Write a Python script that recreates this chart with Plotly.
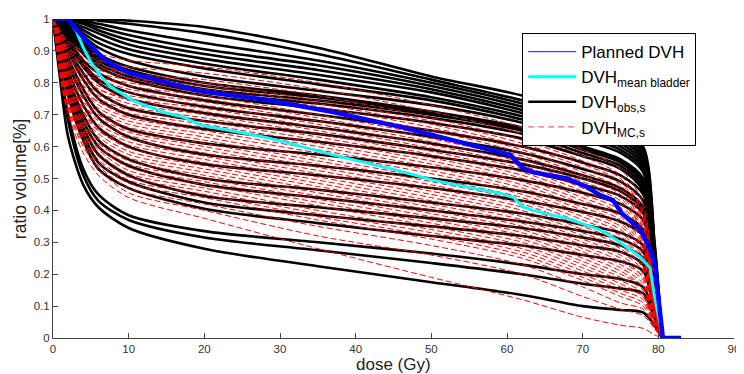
import plotly.graph_objects as go

# dose grid (Gy) at which the observed / Monte-Carlo DVHs were read
dose_nodes = [0, 1, 2, 4, 6, 10, 20, 35, 50, 62, 70, 75, 78, 79.5, 80.5]

# DVH_obs,s (black) – volume ratio at dose_nodes
obs_dvh = [
    [1, 1, 1, 1, 1, 0.995, 0.975, 0.91, 0.82, 0.76, 0.70, 0.66, 0.60, 0.30, 0],
    [1, 1, 1, 1, 0.995, 0.985, 0.955, 0.89, 0.81, 0.745, 0.69, 0.65, 0.59, 0.29, 0],
    [1, 1, 1, 0.995, 0.985, 0.965, 0.925, 0.87, 0.80, 0.735, 0.68, 0.64, 0.58, 0.28, 0],
    [1, 1, 1, 0.99, 0.975, 0.95, 0.905, 0.855, 0.79, 0.725, 0.67, 0.63, 0.57, 0.27, 0],
    [1, 1, 0.995, 0.985, 0.965, 0.935, 0.89, 0.84, 0.78, 0.715, 0.66, 0.62, 0.56, 0.26, 0],
    [1, 1, 0.99, 0.975, 0.955, 0.92, 0.875, 0.825, 0.77, 0.705, 0.65, 0.61, 0.55, 0.25, 0],
    [1, 1, 0.99, 0.965, 0.94, 0.905, 0.86, 0.81, 0.755, 0.695, 0.64, 0.60, 0.54, 0.24, 0],
    [1, 1, 0.985, 0.955, 0.925, 0.89, 0.845, 0.795, 0.745, 0.685, 0.63, 0.59, 0.53, 0.23, 0],
    [1, 1, 0.98, 0.945, 0.91, 0.87, 0.82, 0.775, 0.73, 0.675, 0.62, 0.58, 0.52, 0.22, 0],
    [1, 1, 0.98, 0.93, 0.89, 0.85, 0.80, 0.76, 0.71, 0.66, 0.60, 0.56, 0.50, 0.21, 0],
    [1, 0.995, 0.975, 0.92, 0.88, 0.84, 0.79, 0.755, 0.705, 0.655, 0.595, 0.555, 0.49, 0.21, 0],
    [1, 0.99, 0.97, 0.91, 0.87, 0.83, 0.78, 0.745, 0.70, 0.65, 0.59, 0.55, 0.48, 0.20, 0],
    [1, 0.99, 0.96, 0.90, 0.86, 0.82, 0.77, 0.735, 0.69, 0.64, 0.58, 0.54, 0.47, 0.20, 0],
    [1, 0.99, 0.95, 0.89, 0.85, 0.81, 0.76, 0.72, 0.675, 0.625, 0.57, 0.53, 0.46, 0.19, 0],
    [1, 0.98, 0.94, 0.87, 0.83, 0.79, 0.745, 0.70, 0.65, 0.60, 0.55, 0.51, 0.45, 0.18, 0],
    [1, 0.98, 0.93, 0.86, 0.81, 0.77, 0.725, 0.68, 0.63, 0.58, 0.53, 0.49, 0.43, 0.17, 0],
    [1, 0.97, 0.92, 0.85, 0.80, 0.75, 0.705, 0.66, 0.61, 0.56, 0.51, 0.47, 0.41, 0.16, 0],
    [1, 0.97, 0.91, 0.83, 0.77, 0.72, 0.68, 0.64, 0.59, 0.545, 0.50, 0.46, 0.40, 0.15, 0],
    [1, 0.96, 0.90, 0.81, 0.75, 0.70, 0.655, 0.615, 0.57, 0.525, 0.48, 0.445, 0.39, 0.15, 0],
    [1, 0.95, 0.88, 0.78, 0.71, 0.655, 0.61, 0.575, 0.535, 0.495, 0.455, 0.42, 0.37, 0.14, 0],
    [1, 0.94, 0.86, 0.76, 0.69, 0.63, 0.575, 0.54, 0.50, 0.46, 0.42, 0.39, 0.34, 0.13, 0],
    [1, 0.93, 0.84, 0.73, 0.66, 0.60, 0.545, 0.51, 0.47, 0.43, 0.395, 0.365, 0.32, 0.12, 0],
    [1, 0.92, 0.82, 0.70, 0.62, 0.56, 0.50, 0.465, 0.425, 0.39, 0.355, 0.33, 0.29, 0.11, 0],
    [1, 0.91, 0.81, 0.68, 0.60, 0.54, 0.48, 0.44, 0.40, 0.365, 0.335, 0.31, 0.27, 0.10, 0],
    [1, 0.90, 0.79, 0.66, 0.575, 0.51, 0.445, 0.41, 0.375, 0.345, 0.315, 0.29, 0.25, 0.09, 0],
    [1, 0.89, 0.77, 0.64, 0.55, 0.49, 0.425, 0.385, 0.35, 0.32, 0.29, 0.27, 0.23, 0.09, 0],
    [1, 0.88, 0.76, 0.62, 0.53, 0.47, 0.405, 0.36, 0.32, 0.29, 0.26, 0.24, 0.21, 0.08, 0],
    [1, 0.84, 0.70, 0.53, 0.45, 0.385, 0.335, 0.30, 0.265, 0.23, 0.20, 0.185, 0.16, 0.07, 0],
    [1, 0.83, 0.68, 0.51, 0.43, 0.37, 0.315, 0.275, 0.235, 0.20, 0.17, 0.155, 0.14, 0.06, 0],
    [1, 0.80, 0.63, 0.48, 0.41, 0.345, 0.28, 0.225, 0.175, 0.135, 0.10, 0.088, 0.08, 0.04, 0],
]

# DVH_MC,s (red dashed) – volume ratio at dose_nodes
mc_dvh = [
    [1, 0.96, 0.93, 0.90, 0.89, 0.87, 0.85, 0.80, 0.73, 0.66, 0.59, 0.53, 0.42, 0.15, 0],
    [1, 0.96, 0.92, 0.89, 0.87, 0.85, 0.83, 0.78, 0.71, 0.64, 0.57, 0.51, 0.40, 0.14, 0],
    [1, 0.95, 0.91, 0.88, 0.86, 0.83, 0.81, 0.76, 0.69, 0.62, 0.555, 0.50, 0.39, 0.14, 0],
    [1, 0.95, 0.91, 0.87, 0.85, 0.825, 0.80, 0.745, 0.68, 0.61, 0.545, 0.49, 0.38, 0.13, 0],
    [1, 0.95, 0.90, 0.86, 0.84, 0.815, 0.79, 0.735, 0.67, 0.60, 0.535, 0.48, 0.37, 0.13, 0],
    [1, 0.94, 0.90, 0.86, 0.83, 0.81, 0.78, 0.725, 0.66, 0.59, 0.52, 0.47, 0.36, 0.12, 0],
    [1, 0.94, 0.89, 0.85, 0.82, 0.80, 0.77, 0.715, 0.65, 0.58, 0.51, 0.46, 0.35, 0.12, 0],
    [1, 0.94, 0.89, 0.84, 0.82, 0.79, 0.76, 0.70, 0.635, 0.57, 0.50, 0.45, 0.34, 0.12, 0],
    [1, 0.94, 0.88, 0.83, 0.81, 0.78, 0.75, 0.69, 0.625, 0.56, 0.49, 0.44, 0.33, 0.11, 0],
    [1, 0.93, 0.88, 0.83, 0.80, 0.77, 0.74, 0.68, 0.615, 0.55, 0.48, 0.43, 0.33, 0.11, 0],
    [1, 0.93, 0.87, 0.82, 0.79, 0.76, 0.73, 0.67, 0.605, 0.54, 0.47, 0.42, 0.32, 0.11, 0],
    [1, 0.93, 0.87, 0.81, 0.78, 0.75, 0.72, 0.66, 0.595, 0.53, 0.46, 0.41, 0.31, 0.10, 0],
    [1, 0.92, 0.86, 0.81, 0.78, 0.745, 0.71, 0.65, 0.585, 0.52, 0.45, 0.40, 0.30, 0.10, 0],
    [1, 0.92, 0.86, 0.80, 0.77, 0.735, 0.70, 0.64, 0.575, 0.51, 0.44, 0.39, 0.30, 0.10, 0],
    [1, 0.92, 0.85, 0.79, 0.76, 0.725, 0.69, 0.63, 0.565, 0.50, 0.43, 0.38, 0.29, 0.10, 0],
    [1, 0.92, 0.85, 0.79, 0.75, 0.715, 0.68, 0.62, 0.555, 0.49, 0.42, 0.37, 0.28, 0.09, 0],
    [1, 0.91, 0.84, 0.78, 0.74, 0.705, 0.67, 0.61, 0.545, 0.48, 0.41, 0.36, 0.27, 0.09, 0],
    [1, 0.91, 0.84, 0.77, 0.74, 0.695, 0.66, 0.60, 0.535, 0.47, 0.40, 0.35, 0.27, 0.09, 0],
    [1, 0.91, 0.83, 0.77, 0.73, 0.69, 0.65, 0.59, 0.525, 0.46, 0.39, 0.34, 0.26, 0.09, 0],
    [1, 0.90, 0.83, 0.76, 0.72, 0.68, 0.64, 0.58, 0.515, 0.45, 0.38, 0.33, 0.25, 0.08, 0],
    [1, 0.90, 0.82, 0.75, 0.71, 0.67, 0.63, 0.565, 0.50, 0.44, 0.37, 0.32, 0.24, 0.08, 0],
    [1, 0.90, 0.82, 0.75, 0.70, 0.66, 0.62, 0.555, 0.49, 0.43, 0.36, 0.31, 0.24, 0.08, 0],
    [1, 0.89, 0.81, 0.74, 0.70, 0.65, 0.61, 0.545, 0.48, 0.42, 0.35, 0.30, 0.23, 0.08, 0],
    [1, 0.89, 0.81, 0.73, 0.69, 0.645, 0.60, 0.535, 0.47, 0.41, 0.34, 0.29, 0.22, 0.07, 0],
    [1, 0.89, 0.80, 0.73, 0.68, 0.635, 0.59, 0.525, 0.46, 0.40, 0.33, 0.28, 0.22, 0.07, 0],
    [1, 0.88, 0.80, 0.72, 0.67, 0.625, 0.58, 0.515, 0.45, 0.39, 0.32, 0.27, 0.21, 0.07, 0],
    [1, 0.88, 0.79, 0.71, 0.66, 0.615, 0.57, 0.505, 0.44, 0.38, 0.31, 0.26, 0.20, 0.07, 0],
    [1, 0.88, 0.79, 0.71, 0.65, 0.605, 0.56, 0.495, 0.43, 0.37, 0.30, 0.25, 0.19, 0.06, 0],
    [1, 0.87, 0.78, 0.70, 0.65, 0.595, 0.55, 0.485, 0.42, 0.36, 0.29, 0.24, 0.19, 0.06, 0],
    [1, 0.87, 0.78, 0.69, 0.64, 0.585, 0.54, 0.475, 0.41, 0.35, 0.28, 0.23, 0.18, 0.06, 0],
    [1, 0.87, 0.77, 0.68, 0.63, 0.575, 0.53, 0.465, 0.40, 0.34, 0.27, 0.22, 0.17, 0.06, 0],
    [1, 0.86, 0.77, 0.68, 0.62, 0.565, 0.52, 0.455, 0.39, 0.33, 0.26, 0.21, 0.16, 0.05, 0],
    [1, 0.86, 0.76, 0.67, 0.61, 0.555, 0.51, 0.445, 0.38, 0.32, 0.25, 0.20, 0.16, 0.05, 0],
    [1, 0.86, 0.76, 0.66, 0.60, 0.545, 0.50, 0.435, 0.37, 0.31, 0.24, 0.19, 0.15, 0.05, 0],
    [1, 0.85, 0.75, 0.66, 0.60, 0.535, 0.49, 0.425, 0.36, 0.30, 0.23, 0.18, 0.14, 0.05, 0],
    [1, 0.85, 0.75, 0.65, 0.59, 0.525, 0.48, 0.415, 0.35, 0.29, 0.22, 0.17, 0.13, 0.04, 0],
    [1, 0.85, 0.74, 0.64, 0.58, 0.515, 0.47, 0.40, 0.34, 0.28, 0.21, 0.16, 0.13, 0.04, 0],
    [1, 0.84, 0.74, 0.64, 0.57, 0.505, 0.46, 0.39, 0.33, 0.27, 0.20, 0.15, 0.12, 0.04, 0],
    [1, 0.84, 0.73, 0.63, 0.56, 0.495, 0.45, 0.38, 0.32, 0.26, 0.19, 0.14, 0.11, 0.04, 0],
    [1, 0.84, 0.73, 0.62, 0.55, 0.485, 0.44, 0.37, 0.31, 0.25, 0.18, 0.13, 0.10, 0.03, 0],
    [1, 0.83, 0.72, 0.61, 0.54, 0.47, 0.42, 0.35, 0.29, 0.23, 0.16, 0.11, 0.09, 0.03, 0],
    [1, 0.82, 0.71, 0.60, 0.53, 0.455, 0.40, 0.32, 0.26, 0.20, 0.13, 0.09, 0.07, 0.03, 0],
    [1, 0.81, 0.70, 0.58, 0.51, 0.44, 0.375, 0.28, 0.19, 0.12, 0.065, 0.04, 0.03, 0.01, 0],
]

# Planned DVH (blue)
planned_dose = [0, 2, 3, 4.9, 6.6, 8, 10.2, 15, 19.4, 28.3, 37, 45.9, 50.2, 54.7, 59,
                60.4, 61.3, 62.1, 63.4, 67.9, 70.5, 72.3, 74, 75.2, 77.6, 78.8, 79.5, 80, 80.6, 83]
planned_vol = [1, 1, 0.97, 0.918, 0.878, 0.855, 0.83, 0.80, 0.774, 0.746, 0.708, 0.662, 0.636, 0.61, 0.583,
               0.574, 0.552, 0.533, 0.52, 0.50, 0.474, 0.448, 0.432, 0.39, 0.34, 0.285, 0.235, 0.12, 0, 0]

# Mean bladder DVH (cyan)
mean_dose = [0, 2, 3.1, 4, 5, 6.2, 7.5, 8.9, 10.5, 12.8, 15, 17.2, 19.4, 28.3, 37, 45.9, 50.2,
             54.7, 59, 60.9, 62.1, 63.4, 67.9, 72.3, 74.5, 77.6, 78.9, 79.5, 80.6, 82]
mean_vol = [1, 1, 0.96, 0.91, 0.865, 0.824, 0.79, 0.768, 0.745, 0.724, 0.705, 0.693, 0.668, 0.628, 0.574, 0.523, 0.495,
            0.473, 0.454, 0.44, 0.411, 0.40, 0.375, 0.339, 0.307, 0.254, 0.22, 0.13, 0, 0]

x_ticks = [0, 10, 20, 30, 40, 50, 60, 70, 80, 90]
y_ticks = [0, 0.1, 0.2, 0.3, 0.4, 0.5, 0.6, 0.7, 0.8, 0.9, 1]
y_ticktext = ["0", "0.1", "0.2", "0.3", "0.4", "0.5", "0.6", "0.7", "0.8", "0.9", "1"]

fig = go.Figure()

for vols in obs_dvh:
    fig.add_trace(go.Scatter(x=dose_nodes, y=vols, mode="lines", showlegend=False,
                             hoverinfo="skip",
                             line=dict(color="black", width=2.6, shape="spline", smoothing=0.8)))
for vols in mc_dvh:
    fig.add_trace(go.Scatter(x=dose_nodes, y=vols, mode="lines", showlegend=False,
                             hoverinfo="skip",
                             line=dict(color="#ff0000", width=1, dash="6px,3px",
                                       shape="spline", smoothing=0.8)))

fig.add_trace(go.Scatter(x=mean_dose, y=mean_vol, mode="lines", showlegend=False,
                         line=dict(color="#00ffff", width=3)))
fig.add_trace(go.Scatter(x=planned_dose, y=planned_vol, mode="lines", showlegend=False,
                         line=dict(color="#0000ff", width=4.5)))

# legend entries
fig.add_trace(go.Scatter(x=[None], y=[None], mode="lines", name="Planned DVH", legendrank=1,
                         line=dict(color="#4040ff", width=1.2)))
fig.add_trace(go.Scatter(x=[None], y=[None], mode="lines", name="DVH<sub>mean bladder</sub>", legendrank=2,
                         line=dict(color="#00ffff", width=3)))
fig.add_trace(go.Scatter(x=[None], y=[None], mode="lines", name="DVH<sub>obs,s</sub>", legendrank=3,
                         line=dict(color="black", width=2.6)))
fig.add_trace(go.Scatter(x=[None], y=[None], mode="lines", name="DVH<sub>MC,s</sub>", legendrank=4,
                         line=dict(color="#ff6060", width=1.2, dash="6px,4px")))

axis_color = "#444444"
# the page body adds an 8px offset, so the figure is sized to fit inside the window
fig.update_layout(
    width=736, height=366,
    margin=dict(l=45, r=10, t=11, b=36),
    plot_bgcolor="white", paper_bgcolor="white",
    font=dict(family="Liberation Sans, Arial, sans-serif", color="#222222"),
    showlegend=True,
    legend=dict(x=0.689, y=0.956, xanchor="left", yanchor="top",
                bordercolor="black", borderwidth=1, bgcolor="white",
                font=dict(size=17, color="black"), itemwidth=48, tracegroupgap=0),
    xaxis=dict(range=[0, 90], tickvals=x_ticks, ticks="inside", ticklen=5, tickcolor=axis_color,
               showline=True, linecolor=axis_color, linewidth=1, showgrid=False, zeroline=False,
               automargin=False, tickfont=dict(size=11.5, color="#333333")),
    yaxis=dict(range=[0, 1], tickvals=y_ticks, ticktext=y_ticktext, ticks="inside", ticklen=5,
               tickcolor=axis_color, showline=True, linecolor=axis_color, linewidth=1,
               showgrid=False, zeroline=False, automargin=False,
               tickfont=dict(size=11.5, color="#333333")),
    annotations=[
        dict(text="dose (Gy)", xref="paper", yref="paper", x=0.5, y=-0.082,
             xanchor="center", yanchor="middle", showarrow=False,
             font=dict(size=17, color="#222222")),
        dict(text="ratio volume[%]", xref="paper", yref="paper", x=-0.049, y=0.5,
             xanchor="center", yanchor="middle", textangle=-90, showarrow=False,
             font=dict(size=17.5, color="#222222")),
    ],
)

fig.write_html("out.html")
